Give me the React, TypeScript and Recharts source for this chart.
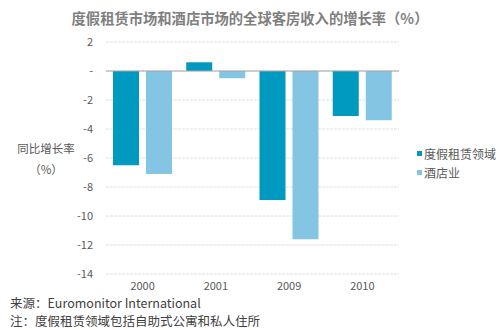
import { BarChart, Bar, XAxis, YAxis, CartesianGrid, ReferenceLine } from 'recharts';

const years = ['2000', '2001', '2009', '2010'];
const vacationRental = [-6.5, 0.6, -8.9, -3.1];
const hotel = [-7.1, -0.5, -11.6, -3.4];
const yTicks = [-14, -12, -10, -8, -6, -4, -2, 0, 2];

const series = [
  { key: 'rental', name: '度假租赁领域', color: '#0099bf' },
  { key: 'hotel', name: '酒店业', color: '#83c5e3' },
];

const data = years.map((year, i) => ({ year, rental: vacationRental[i], hotel: hotel[i] }));

const FONT = '"Noto Sans CJK SC", "Noto Sans", sans-serif';

export default function App() {
  const fmtY = (v: number) => (v === 0 ? '-' : String(v));

  return (
    <div style={{ position: 'fixed', left: 0, top: 0, width: 500, height: 330, background: '#fff', fontFamily: FONT }}>
      <div
        style={{
          position: 'absolute', left: 0, top: 7, width: 500, textAlign: 'center',
          fontSize: 14.3, fontWeight: 'bold', color: '#7f7f7f',
        }}
      >
        度假租赁市场和酒店市场的全球客房收入的增长率（%）
      </div>

      <div style={{ position: 'absolute', left: 10, top: 138, width: 72, textAlign: 'center', fontSize: 11.5, color: '#595959', lineHeight: '21px' }}>
        <div>同比增长率</div>
        <div>（%）</div>
      </div>

      <BarChart
        width={500}
        height={330}
        data={data}
        margin={{ top: 42, right: 101, bottom: 26, left: 0 }}
        barCategoryGap={7}
        barGap={7}
      >
        <CartesianGrid vertical={false} stroke="#dedede" strokeDasharray="3 1" />
        <XAxis
          dataKey="year"
          height={30}
          axisLine={false}
          tickLine={false}
          tickMargin={2}
          tick={{ fill: '#595959', fontSize: 11, fontFamily: FONT }}
        />
        <YAxis
          width={106}
          domain={[-14, 2]}
          ticks={yTicks}
          tickFormatter={fmtY}
          axisLine={false}
          tickLine={false}
          tickSize={0}
          tickMargin={13}
          interval={0}
          tick={{ fill: '#595959', fontSize: 11, fontFamily: FONT }}
        />
        <ReferenceLine y={0} stroke="#a6a6a6" strokeWidth={1} />
        {series.map((s) => (
          <Bar key={s.key} dataKey={s.key} name={s.name} fill={s.color} isAnimationActive={false} />
        ))}
      </BarChart>

      <div style={{ position: 'absolute', left: 417, top: 144, fontSize: 12, color: '#595959', lineHeight: '19px' }}>
        {series.map((s) => (
          <div key={s.key} style={{ display: 'flex', alignItems: 'center', whiteSpace: 'nowrap' }}>
            <span style={{ display: 'inline-block', width: 5, height: 5, background: s.color, marginRight: 2 }} />
            {s.name}
          </div>
        ))}
      </div>

      <div style={{ position: 'absolute', left: 10, top: 294, fontSize: 12.5, color: '#404040', lineHeight: '18px' }}>
        <div>来源：Euromonitor International</div>
        <div>注：度假租赁领域包括自助式公寓和私人住所</div>
      </div>
    </div>
  );
}
